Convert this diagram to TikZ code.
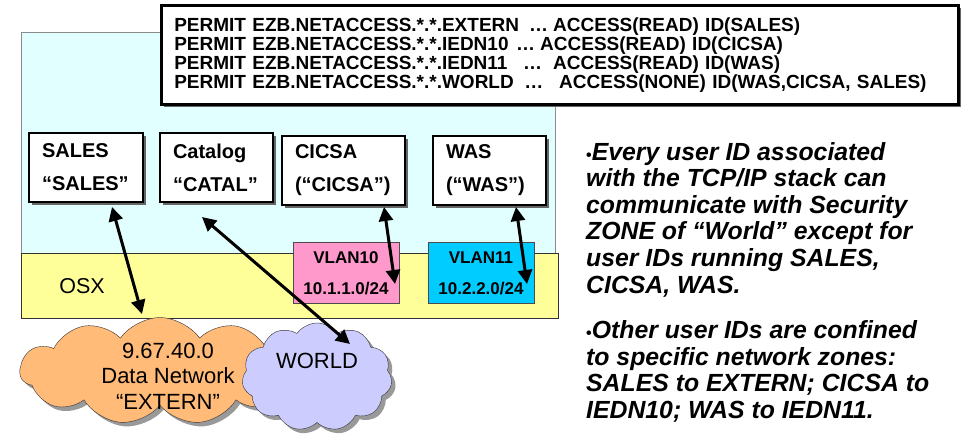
\documentclass[tikz,border=0pt]{standalone}
\usepackage{fontspec}
\setmainfont{Liberation Sans}
\usetikzlibrary{arrows.meta,shadows,shapes.symbols}

\definecolor{zonecyan}{RGB}{226,255,255}
\definecolor{osxyellow}{RGB}{255,255,153}
\definecolor{vlanpink}{RGB}{255,153,204}
\definecolor{vlanblue}{RGB}{0,204,255}
\definecolor{externorange}{RGB}{255,187,119}
\definecolor{worldlilac}{RGB}{204,204,255}

\newcommand{\boxshadow}{2.5pt}
\newcommand{\cloudshadow}{4pt}
% one PERMIT rule: zone, width up to the dots, width of the dots, rest
\newcommand{\permitline}[4]{%
    \makebox[#2][l]{PERMIT EZB.NETACCESS.*.*.#1}\makebox[#3][l]{…}#4}

\tikzset{
    appbox/.style={draw, line width=2.5pt, fill=white, inner xsep=13pt,
        minimum height=69pt, align=left,
        font=\fontsize{20}{33}\selectfont\bfseries,
        drop shadow={shadow xshift=\boxshadow, shadow yshift=-\boxshadow,
            fill=black!60, opacity=1}},
    vlanbox/.style={draw=black!70, thin, minimum width=106pt,
        minimum height=61pt, align=center,
        font=\fontsize{17}{31}\selectfont\bfseries},
    netcloud/.style={cloud, cloud puffs=11, cloud puff arc=110,
        draw=black!80, thin,
        drop shadow={shadow xshift=\cloudshadow, shadow yshift=-\cloudshadow,
            fill=black!40, opacity=1}},
    cloudtext/.style={align=center, font=\fontsize{22}{25.5}\selectfont},
    zonearrow/.style={{Triangle[length=14pt,width=14pt]}-{Triangle[length=14pt,width=14pt]},
        line width=3pt}
}

\begin{document}
\begin{tikzpicture}[x=1pt, y=-1pt]

\useasboundingbox (0,0) rectangle (969,439);

% stack zone and OSX strip
\draw[black!45, fill=zonecyan] (21,32) rectangle (555,258);
\draw[black!80, fill=osxyellow] (21,253) rectangle (558,318);

% permit rules
\node (permits) [draw, line width=2.5pt, fill=white, anchor=north west,
    minimum width=797pt, minimum height=99pt, inner xsep=13pt,
    text width=771pt, align=left,
    font=\fontsize{19}{19}\selectfont\bfseries,
    drop shadow={shadow xshift=\boxshadow, shadow yshift=-\boxshadow,
        fill=black!60, opacity=1}] at (160,4)
    {\permitline{EXTERN}{355pt}{24pt}{ACCESS(READ) ID(SALES)}\\
     \permitline{IEDN10}{342pt}{24pt}{ACCESS(READ) ID(CICSA)}\\
     \permitline{IEDN11}{349pt}{30pt}{ACCESS(READ) ID(WAS)}\\
     \permitline{WORLD}{350pt}{35pt}{ACCESS(NONE) ID(WAS,CICSA, SALES)}};

% applications
\node (sales) [appbox, text width=88pt] at (86,167.5) {SALES\\“SALES”};
\node (catal) [appbox, text width=87pt] at (216.5,167.5) {Catalog\\“CATAL”};
\node (cicsa) [appbox, text width=97pt] at (343.5,170.5) {CICSA\\(“CICSA”)};
\node (was) [appbox, text width=87pt] at (489.5,170.5) {WAS\\(“WAS”)};

% vlans
\node (vlan10) [vlanbox, fill=vlanpink] at (346,273) {VLAN10\\10.1.1.0/24};
\node (vlan11) [vlanbox, fill=vlanblue] at (481,273) {VLAN11\\10.2.2.0/24};

\node (osx) [font=\fontsize{21.5}{25}\selectfont] at (82,286) {OSX};

% networks
\node (extern) [netcloud, fill=externorange, minimum width=280pt,
    minimum height=107pt] at (160,371) {};
\node (externtext) [cloudtext] at (168,376) {9.67.40.0\\Data Network\\“EXTERN”};
\node (world) [netcloud, fill=worldlilac, minimum width=150pt,
    minimum height=108pt] at (317,377) {};
\node (worldtext) [cloudtext] at (317,361) {WORLD};

% arrow ends
\coordinate (sales-in) at (112,207);
\coordinate (sales-out) at (142,314);
\coordinate (catal-in) at (202,217);
\coordinate (catal-out) at (350,344);
\coordinate (cicsa-in) at (384,207);
\coordinate (cicsa-out) at (395,284);
\coordinate (was-in) at (516,207);
\coordinate (was-out) at (527,284);

\draw[zonearrow] (sales-in) -- (sales-out);
\draw[zonearrow] (catal-in) -- (catal-out);
\draw[zonearrow] (cicsa-in) -- (cicsa-out);
\draw[zonearrow] (was-in) -- (was-out);

% notes
\node (notes) [anchor=north west, inner sep=0pt, align=left,
    font=\fontsize{24.8}{26.6}\selectfont\bfseries\itshape] at (586,142)
    {{\upshape\fontsize{16}{26.6}\selectfont•}Every user ID associated\\
     with the TCP/IP stack can\\
     communicate with Security\\
     ZONE of “World” except for\\
     user IDs running SALES,\\
     CICSA, WAS.\\[19pt]
     {\upshape\fontsize{16}{26.6}\selectfont•}Other user IDs are confined\\
     to specific network zones:\\
     SALES to EXTERN; CICSA to\\
     IEDN10; WAS to IEDN11.};

\end{tikzpicture}
\end{document}
